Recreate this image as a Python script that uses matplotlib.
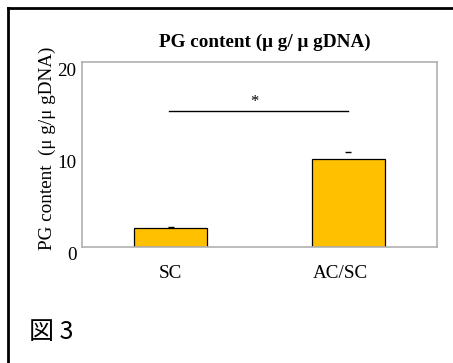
import matplotlib
matplotlib.use("Agg")
import matplotlib.pyplot as plt
from matplotlib.lines import Line2D
import matplotlib.transforms as mtransforms

# data
groups = ["SC", "AC/SC"]
pg_content = [2.1, 9.55]
pg_err = [0.05, 0.7]
sig_level = 14.7
yticks = [0, 10, 20]

serif = "Liberation Serif"
gold = "#FFC000"

fig = plt.figure(figsize=(4.53, 3.63), dpi=100)
ax = fig.add_axes([82 / 453, 1 - 247 / 363, 355 / 453, 185 / 363])

x = list(range(len(groups)))
ax.bar(x, pg_content, width=0.41, color=gold, edgecolor="black", linewidth=0.9, zorder=2)
# only the caps of the error bars are visible
tops = [v + e for v, e in zip(pg_content, pg_err)]
ax.plot(x, tops, linestyle="none", marker="_", color="black", markersize=4, markeredgewidth=1)

# significance line
ax.plot([-0.01, 1.0], [sig_level, sig_level], color="black", linewidth=1)
ax.text(0.47, sig_level + 0.1, "*", ha="center", va="bottom", family=serif, fontsize=12)

ax.set_xlim(-0.5, 1.5)
ax.set_ylim(0, 20)
ax.set_xticks(x)
ax.set_xticklabels(groups, family=serif, fontsize=13.8)
ax.get_xticklabels()[1].set_x(0.95)
ax.set_yticks(yticks)
ax.set_yticklabels([str(t) for t in yticks], family=serif, fontsize=13.8)
ax.tick_params(length=0, pad=13)
ax.tick_params(axis="y", pad=4)
offset = mtransforms.ScaledTranslation(0, -7 / 100, fig.dpi_scale_trans)
for lbl in ax.get_yticklabels():
    lbl.set_transform(lbl.get_transform() + offset)
shift = mtransforms.ScaledTranslation(-8 / 100, 0, fig.dpi_scale_trans)
lbl = ax.get_xticklabels()[1]
lbl.set_transform(lbl.get_transform() + shift)
for s in ax.spines.values():
    s.set_color("#b0b0b0")
    s.set_linewidth(1.2)

ax.set_title("PG content (\u03bc g/ \u03bc gDNA)", family=serif, fontsize=13.8,
             fontweight="bold", pad=11, x=0.515)
fig.text(47 / 453, 1 - 148 / 363, "PG content  (\u03bc g/\u03bc gDNA)", rotation=90,
         ha="center", va="center", family=serif, fontsize=13.8)

fig.text(29 / 453, 1 - 332 / 363, "図 3", ha="left", va="center",
         family=["Noto Sans CJK JP", "DejaVu Sans"], fontsize=18)

# outer frame
fig.add_artist(Line2D([8 / 453, 1.0], [1 - 8 / 363, 1 - 8 / 363], color="black", linewidth=2,
                      transform=fig.transFigure))
fig.add_artist(Line2D([8 / 453, 8 / 453], [0.0, 1 - 8 / 363], color="black", linewidth=2,
                      transform=fig.transFigure))

fig.savefig("out.png", dpi=100)
